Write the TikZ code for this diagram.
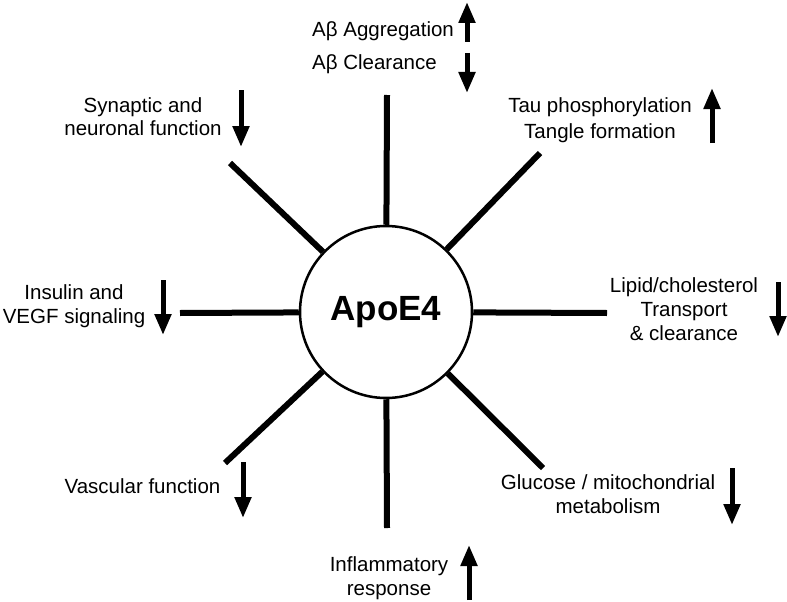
\documentclass[tikz,border=0pt]{standalone}
\usepackage{fontspec}
\setmainfont{Liberation Sans}
\usetikzlibrary{arrows.meta}
\begin{document}
\begin{tikzpicture}[x=1pt,y=-1pt,
  spoke/.style={line width=6pt},
  ind/.style={line width=5pt,-{Triangle[width=16pt,length=21pt]}},
  lbl/.style={inner sep=0pt,align=center,anchor=base,font=\fontsize{20.5}{23.5}\selectfont},
  lblw/.style={inner sep=0pt,anchor=base west,font=\fontsize{20.5}{23.5}\selectfont}]
\useasboundingbox[fill=white] (0,0) rectangle (787,602);
% centre
\node[circle,draw,line width=2.5pt,minimum size=172pt,inner sep=0pt,
      font=\fontsize{35}{40}\selectfont\bfseries] (apo) at (386,312) {ApoE4};
% spoke ends
\coordinate (sT) at (387,95);
\coordinate (sB) at (387,528);
\coordinate (sL) at (180,313);
\coordinate (sR) at (607,313);
\coordinate (sUL) at (230,163);
\coordinate (sUR) at (540,153);
\coordinate (sLL) at (225,463);
\coordinate (sLR) at (543,468);
\foreach \s in {sT,sB,sL,sR,sUL,sUR,sLL,sLR}
  \draw[spoke] (apo) -- (\s);
% labels (base anchor = baseline of the last line)
\node[lblw] (agg) at (312,37) {Aβ Aggregation};
\node[lblw] (clr) at (312,70) {Aβ Clearance};
\node[lbl,font=\fontsize{20.5}{26}\selectfont] (tau) at (600,138) {Tau phosphorylation\\Tangle formation};
\node[lbl,font=\fontsize{20.5}{24}\selectfont] (lip) at (684,340) {Lipid/cholesterol\\Transport\\\& clearance};
\node[lbl] (glu) at (608,513) {Glucose / mitochondrial\\metabolism};
\node[lbl] (inf) at (389,595) {Inflammatory\\response};
\node[lbl] (vas) at (142.5,493) {Vascular function};
\node[lbl] (ins) at (74,323) {Insulin and\\VEGF signaling};
\node[lbl,font=\fontsize{20.5}{22.5}\selectfont] (syn) at (143,135) {Synaptic and\\neuronal function};
% indicator arrows
\coordinate (a1s) at (467,42);  \coordinate (a1e) at (467,2);
\coordinate (a2s) at (467,53);  \coordinate (a2e) at (467,93);
\coordinate (a3s) at (712,143); \coordinate (a3e) at (712,88);
\coordinate (a4s) at (778,282); \coordinate (a4e) at (778,337);
\coordinate (a5s) at (732,468); \coordinate (a5e) at (732,525);
\coordinate (a6s) at (469,600); \coordinate (a6e) at (469,545);
\coordinate (a7s) at (243,462); \coordinate (a7e) at (243,518);
\coordinate (a8s) at (163,280); \coordinate (a8e) at (163,335);
\coordinate (a9s) at (241,90);  \coordinate (a9e) at (241,147);
\foreach \i in {1,...,9}
  \draw[ind] (a\i s) -- (a\i e);
\end{tikzpicture}
\end{document}
